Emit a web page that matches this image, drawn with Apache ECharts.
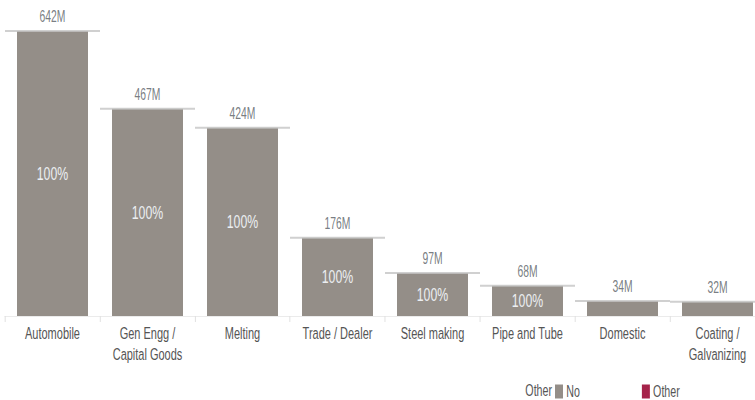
<!DOCTYPE html>
<html>
<head>
<meta charset="utf-8">
<script src="https://cdn.jsdelivr.net/npm/echarts@6/dist/echarts.min.js"></script>
<style>
html,body{margin:0;padding:0;background:#fff;overflow:hidden;}
#wrap{width:755px;height:400px;overflow:hidden;position:relative;}
#chart{height:400px;position:absolute;left:0;top:0;transform-origin:0 0;}
</style>
</head>
<body>
<div id="wrap"><div id="chart"></div></div>
<script>
var categories = ['Automobile', 'Gen Engg /\nCapital Goods', 'Melting', 'Trade / Dealer', 'Steel making', 'Pipe and Tube', 'Domestic', 'Coating /\nGalvanizing'];
var totals = [642, 467, 424, 176, 97, 68, 34, 32];
var shareLabels = ['100%', '100%', '100%', '100%', '100%', '100%', '', ''];
var legendTitle = 'Other';
var legendItems = ['No', 'Other'];

// The reference text is horizontally condensed; draw wider and compress along x.
var S = 0.647;
var W = 755 / S;
var el = document.getElementById('chart');
el.style.width = W + 'px';
el.style.transform = 'scaleX(' + S + ')';

var FONT = '"Liberation Sans", Arial, sans-serif';
var GREY = '#948e88';
var RED = '#a5234a';

var chart = echarts.init(el, null, {renderer: 'svg'});
chart.setOption({
  animation: false,
  textStyle: {fontFamily: FONT},
  grid: {left: 5 / S, width: 760 / S, top: 31, bottom: 84, containLabel: false, outerBoundsMode: 'none'},
  xAxis: {
    type: 'category',
    data: categories,
    axisLine: {show: true, lineStyle: {color: '#e6e6e6', width: 1}},
    axisTick: {show: true, interval: 0, length: 6, lineStyle: {color: '#e0e0e0', width: 1.5}},
    axisLabel: {interval: 0, color: '#555', fontSize: 17, lineHeight: 21, margin: 7, fontFamily: FONT}
  },
  yAxis: {
    type: 'value', min: 0, max: Math.max.apply(null, totals), show: false,
    splitLine: {show: false}
  },
  legend: {
    data: legendItems,
    left: 555 / S, top: 383, padding: 0,
    icon: 'rect', itemWidth: 8 / S, itemHeight: 14, itemGap: 62 / S,
    textStyle: {color: '#555', fontSize: 16.5, fontFamily: FONT}
  },
  graphic: [{
    type: 'text', x: 552 / S, y: 390,
    style: {text: legendTitle, fill: '#555', fontSize: 16.5, fontFamily: FONT, align: 'right', verticalAlign: 'middle'}
  }],
  series: [{
    name: 'No', type: 'bar', stack: 's', barWidth: 71 / S,
    itemStyle: {color: GREY},
    data: totals.map(function (v, i) {
      return {value: v, label: {show: shareLabels[i] !== '', formatter: shareLabels[i]}};
    }),
    label: {position: 'inside', color: '#eceef2', fontSize: 19, fontFamily: FONT},
    z: 2
  }, {
    name: 'Other', type: 'bar', stack: 's', barWidth: 71 / S,
    itemStyle: {color: RED},
    data: []
  }, {
    name: 'ref', type: 'scatter', clip: false,
    symbol: 'rect', symbolSize: [95 / S, 2],
    itemStyle: {color: '#c4c4c4'},
    data: totals,
    label: {
      show: true, position: 'top', distance: 5,
      formatter: function (p) { return p.value + 'M'; },
      color: '#555b62', fontSize: 16, fontFamily: FONT
    },
    z: 3
  }]
});
</script>
</body>
</html>
